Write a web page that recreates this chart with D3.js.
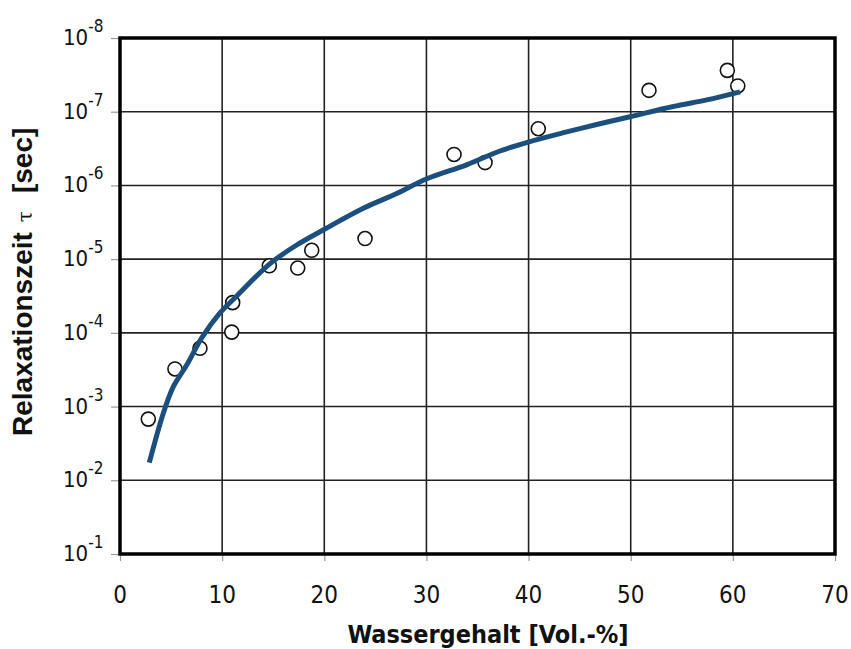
<!DOCTYPE html>
<html>
<head>
<meta charset="utf-8">
<script src="https://cdn.jsdelivr.net/npm/d3@7"></script>
<style>
  body { margin: 0; background: #fff; }
  svg { display: block; }
</style>
</head>
<body>
<svg width="851" height="649"></svg>
<script>
// Messpunkte (Wassergehalt in Vol.-%, Relaxationszeit in s)
var pointWater = [2.77, 5.38, 7.83, 11.03, 10.94, 14.62, 17.40, 18.77, 23.99, 32.70, 35.74, 40.95, 51.79, 59.46, 60.48];
var pointTau   = [1.48e-3, 3.09e-4, 1.62e-4, 3.89e-5, 9.77e-5, 1.23e-5, 1.32e-5, 7.59e-6, 5.25e-6, 3.80e-7, 4.90e-7, 1.70e-7, 5.13e-8, 2.75e-8, 4.47e-8];

// Ausgleichskurve
var curveWater = [2.87, 4.24, 5.22, 6.53, 8.0, 9.79, 11.5, 14.69, 17.3, 20.07, 23.82, 27.09, 30.03, 33.94, 37.2, 39.97, 43.73, 46.67, 49.93, 54.17, 57.44, 60.7];
var curveTau   = [5.75e-3, 1.23e-3, 5.37e-4, 2.73e-4, 1.17e-4, 5.37e-5, 3.09e-5, 1.15e-5, 6.43e-6, 3.90e-6, 2.04e-6, 1.29e-6, 8.13e-7, 5.25e-7, 3.41e-7, 2.58e-7, 1.88e-7, 1.49e-7, 1.17e-7, 8.51e-8, 6.92e-8, 5.37e-8];

// Achsen
var xTicks = [0, 10, 20, 30, 40, 50, 60, 70];
var yTicks = [1e-8, 1e-7, 1e-6, 1e-5, 1e-4, 1e-3, 1e-2, 1e-1];

var svg = d3.select("svg");
// (nicht "top" nennen, das ist window.top)
var plotLeft = 120, plotRight = 835, plotTop = 38, plotBottom = 554;

var x = d3.scaleLinear().domain([0, 70]).range([plotLeft, plotRight]);
// Achse umgekehrt: 10^-8 oben, 10^-1 unten
var y = d3.scaleLog().domain([1e-1, 1e-8]).range([plotBottom, plotTop]);

// Gitter
svg.append("g")
    .selectAll("line")
    .data(xTicks)
    .enter().append("line")
    .attr("x1", function(d) { return x(d); })
    .attr("x2", function(d) { return x(d); })
    .attr("y1", plotTop)
    .attr("y2", plotBottom)
    .attr("stroke", "#222")
    .attr("stroke-width", 1.6);

svg.append("g")
    .selectAll("line")
    .data(yTicks)
    .enter().append("line")
    .attr("x1", plotLeft)
    .attr("x2", plotRight)
    .attr("y1", function(d) { return y(d); })
    .attr("y2", function(d) { return y(d); })
    .attr("stroke", "#222")
    .attr("stroke-width", 1.6);

// kleine Teilstriche
var xAxis = svg.append("g")
    .attr("transform", "translate(0," + plotBottom + ")")
    .call(d3.axisBottom(x).tickValues(xTicks).tickSize(7).tickFormat(""));
var yAxis = svg.append("g")
    .attr("transform", "translate(" + plotLeft + ",0)")
    .call(d3.axisLeft(y).tickValues(yTicks).tickSize(9).tickFormat(""));
xAxis.select(".domain").remove();
yAxis.select(".domain").remove();
svg.selectAll(".tick line").attr("stroke", "#999").attr("stroke-width", 1.2);

// Rahmen
svg.append("rect")
    .attr("x", plotLeft)
    .attr("y", plotTop)
    .attr("width", plotRight - plotLeft)
    .attr("height", plotBottom - plotTop)
    .attr("fill", "none")
    .attr("stroke", "#000")
    .attr("stroke-width", 3.5);

// x-Beschriftung
svg.append("g")
    .selectAll("text")
    .data(xTicks)
    .enter().append("text")
    .attr("x", function(d) { return x(d); })
    .attr("y", 603)
    .attr("text-anchor", "middle")
    .attr("font-family", "DejaVu Sans Condensed, DejaVu Sans, sans-serif")
    .attr("font-size", "24px")
    .attr("fill", "#111")
    .text(function(d) { return d; });

// y-Beschriftung 10^n
var yLab = svg.append("g")
    .selectAll("text")
    .data(yTicks)
    .enter().append("text")
    .attr("x", 63)
    .attr("y", function(d) { return y(d) + 7; })
    .attr("font-family", "DejaVu Sans Condensed, DejaVu Sans, sans-serif")
    .attr("font-size", "22px")
    .attr("fill", "#111");
yLab.append("tspan").text("10");
yLab.append("tspan")
    .attr("dy", -13)
    .attr("font-size", "17px")
    .text(function(d) { return "-" + Math.round(-Math.log10(d)); });

// Messpunkte
svg.append("g")
    .selectAll("circle")
    .data(d3.range(pointWater.length))
    .enter().append("circle")
    .attr("cx", function(i) { return x(pointWater[i]); })
    .attr("cy", function(i) { return y(pointTau[i]); })
    .attr("r", 7)
    .attr("fill", "#fff")
    .attr("stroke", "#111")
    .attr("stroke-width", 1.6);

// Kurve
var line = d3.line()
    .x(function(i) { return x(curveWater[i]); })
    .y(function(i) { return y(curveTau[i]); })
    .curve(d3.curveCatmullRom.alpha(0.5));

svg.append("path")
    .datum(d3.range(curveWater.length))
    .attr("d", line)
    .attr("fill", "none")
    .attr("stroke", "#1b4f7e")
    .attr("stroke-width", 5)
    .attr("stroke-linecap", "butt");

// Achsentitel
svg.append("text")
    .attr("x", 488)
    .attr("y", 643)
    .attr("text-anchor", "middle")
    .attr("font-family", "DejaVu Sans Condensed, DejaVu Sans, sans-serif")
    .attr("font-weight", "bold")
    .attr("font-size", "25px")
    .attr("fill", "#111")
    .text("Wassergehalt [Vol.-%]");

var yTitle = svg.append("text")
    .attr("transform", "translate(32,436) rotate(-90)")
    .attr("text-anchor", "start")
    .attr("font-family", "Liberation Sans, Arial, sans-serif")
    .attr("font-weight", "bold")
    .attr("font-size", "28px")
    .attr("fill", "#111");
yTitle.append("tspan").text("Relaxationszeit");
yTitle.append("tspan")
    .attr("dx", 10)
    .attr("font-weight", "normal")
    .attr("font-size", "20px")
    .attr("font-family", "DejaVu Serif, serif")
    .text("τ");
yTitle.append("tspan")
    .attr("dx", 18)
    .text("[sec]");
</script>
</body>
</html>
